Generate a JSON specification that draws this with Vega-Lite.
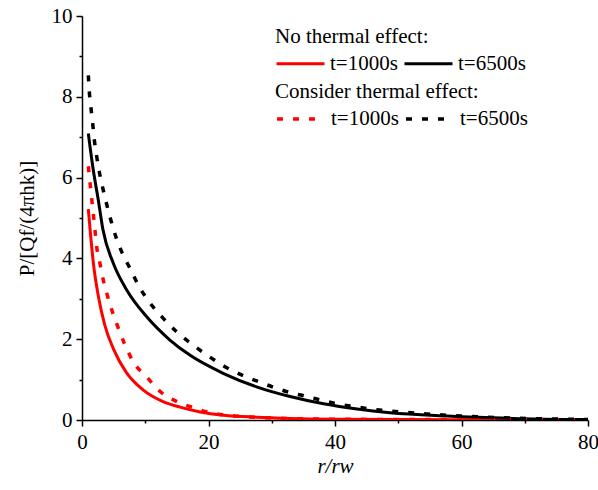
{
  "$schema": "https://vega.github.io/schema/vega-lite/v6.json",
  "width": 506,
  "height": 404,
  "autosize": {"type": "none"},
  "padding": {"left": 82, "top": 16, "right": 10, "bottom": 70},
  "background": "white",
  "config": {
    "view": {"stroke": null},
    "font": "Liberation Serif",
    "axis": {
      "domainColor": "black", "domainWidth": 1.5, "tickColor": "black", "tickWidth": 1.5,
      "labelFont": "Liberation Serif", "labelFontSize": 21, "labelColor": "black",
      "titleFont": "Liberation Serif", "titleFontSize": 21, "titleColor": "black", "titleFontWeight": "normal",
      "grid": false
    },
    "legend": {
      "titleFont": "Liberation Serif", "titleFontSize": 21, "titleFontWeight": "normal", "titleColor": "black",
      "titleLimit": 400, "labelLimit": 200,
      "labelFont": "Liberation Serif", "labelFontSize": 21, "labelColor": "black",
      "symbolType": "stroke", "symbolSize": 2304, "symbolStrokeWidth": 3,
      "labelOffset": 4, "columnPadding": 0, "titlePadding": -9, "padding": 0,
      "orient": "none", "direction": "horizontal"
    }
  },
  "data": {
    "values": [
      {"r": 1, "p": 5.22, "t": "t=1000s", "effect": "No"},
      {"r": 1.3, "p": 4.68, "t": "t=1000s", "effect": "No"},
      {"r": 1.8, "p": 3.88, "t": "t=1000s", "effect": "No"},
      {"r": 2.6, "p": 3.05, "t": "t=1000s", "effect": "No"},
      {"r": 3.6, "p": 2.35, "t": "t=1000s", "effect": "No"},
      {"r": 5, "p": 1.75, "t": "t=1000s", "effect": "No"},
      {"r": 7, "p": 1.18, "t": "t=1000s", "effect": "No"},
      {"r": 9.7, "p": 0.74, "t": "t=1000s", "effect": "No"},
      {"r": 12.9, "p": 0.45, "t": "t=1000s", "effect": "No"},
      {"r": 15.5, "p": 0.32, "t": "t=1000s", "effect": "No"},
      {"r": 18.7, "p": 0.2, "t": "t=1000s", "effect": "No"},
      {"r": 22.4, "p": 0.12, "t": "t=1000s", "effect": "No"},
      {"r": 27.6, "p": 0.07, "t": "t=1000s", "effect": "No"},
      {"r": 33, "p": 0.04, "t": "t=1000s", "effect": "No"},
      {"r": 40, "p": 0.02, "t": "t=1000s", "effect": "No"},
      {"r": 50, "p": 0.01, "t": "t=1000s", "effect": "No"},
      {"r": 65, "p": 0.005, "t": "t=1000s", "effect": "No"},
      {"r": 80, "p": 0.0, "t": "t=1000s", "effect": "No"},

      {"r": 1, "p": 7.09, "t": "t=6500s", "effect": "No"},
      {"r": 1.79, "p": 6.18, "t": "t=6500s", "effect": "No"},
      {"r": 2.58, "p": 5.44, "t": "t=6500s", "effect": "No"},
      {"r": 3.3, "p": 4.72, "t": "t=6500s", "effect": "No"},
      {"r": 4.95, "p": 3.88, "t": "t=6500s", "effect": "No"},
      {"r": 7.07, "p": 3.22, "t": "t=6500s", "effect": "No"},
      {"r": 10.2, "p": 2.56, "t": "t=6500s", "effect": "No"},
      {"r": 13.9, "p": 1.98, "t": "t=6500s", "effect": "No"},
      {"r": 17.1, "p": 1.6, "t": "t=6500s", "effect": "No"},
      {"r": 22.4, "p": 1.15, "t": "t=6500s", "effect": "No"},
      {"r": 27.6, "p": 0.82, "t": "t=6500s", "effect": "No"},
      {"r": 32.9, "p": 0.58, "t": "t=6500s", "effect": "No"},
      {"r": 38.2, "p": 0.4, "t": "t=6500s", "effect": "No"},
      {"r": 43.5, "p": 0.27, "t": "t=6500s", "effect": "No"},
      {"r": 48.7, "p": 0.18, "t": "t=6500s", "effect": "No"},
      {"r": 57.7, "p": 0.1, "t": "t=6500s", "effect": "No"},
      {"r": 68.2, "p": 0.04, "t": "t=6500s", "effect": "No"},
      {"r": 80, "p": 0.01, "t": "t=6500s", "effect": "No"},

      {"r": 1, "p": 6.28, "t": "t=1000s", "effect": "Consider"},
      {"r": 1.27, "p": 5.87, "t": "t=1000s", "effect": "Consider"},
      {"r": 1.53, "p": 5.48, "t": "t=1000s", "effect": "Consider"},
      {"r": 1.8, "p": 5.09, "t": "t=1000s", "effect": "Consider"},
      {"r": 2.06, "p": 4.68, "t": "t=1000s", "effect": "Consider"},
      {"r": 2.32, "p": 4.29, "t": "t=1000s", "effect": "Consider"},
      {"r": 2.85, "p": 3.87, "t": "t=1000s", "effect": "Consider"},
      {"r": 3.37, "p": 3.46, "t": "t=1000s", "effect": "Consider"},
      {"r": 4, "p": 3.09, "t": "t=1000s", "effect": "Consider"},
      {"r": 4.8, "p": 2.68, "t": "t=1000s", "effect": "Consider"},
      {"r": 5.75, "p": 2.27, "t": "t=1000s", "effect": "Consider"},
      {"r": 6.8, "p": 1.86, "t": "t=1000s", "effect": "Consider"},
      {"r": 8.1, "p": 1.44, "t": "t=1000s", "effect": "Consider"},
      {"r": 10.2, "p": 1.07, "t": "t=1000s", "effect": "Consider"},
      {"r": 12.4, "p": 0.7, "t": "t=1000s", "effect": "Consider"},
      {"r": 15.1, "p": 0.45, "t": "t=1000s", "effect": "Consider"},
      {"r": 17.9, "p": 0.29, "t": "t=1000s", "effect": "Consider"},
      {"r": 20.3, "p": 0.18, "t": "t=1000s", "effect": "Consider"},
      {"r": 25, "p": 0.09, "t": "t=1000s", "effect": "Consider"},
      {"r": 30, "p": 0.05, "t": "t=1000s", "effect": "Consider"},
      {"r": 40, "p": 0.02, "t": "t=1000s", "effect": "Consider"},
      {"r": 55, "p": 0.01, "t": "t=1000s", "effect": "Consider"},
      {"r": 80, "p": 0.0, "t": "t=1000s", "effect": "Consider"},

      {"r": 1, "p": 8.53, "t": "t=6500s", "effect": "Consider"},
      {"r": 1.16, "p": 8.12, "t": "t=6500s", "effect": "Consider"},
      {"r": 1.42, "p": 7.72, "t": "t=6500s", "effect": "Consider"},
      {"r": 1.69, "p": 7.34, "t": "t=6500s", "effect": "Consider"},
      {"r": 1.95, "p": 6.93, "t": "t=6500s", "effect": "Consider"},
      {"r": 2.32, "p": 6.53, "t": "t=6500s", "effect": "Consider"},
      {"r": 2.74, "p": 6.14, "t": "t=6500s", "effect": "Consider"},
      {"r": 3.27, "p": 5.75, "t": "t=6500s", "effect": "Consider"},
      {"r": 3.9, "p": 5.34, "t": "t=6500s", "effect": "Consider"},
      {"r": 4.59, "p": 4.93, "t": "t=6500s", "effect": "Consider"},
      {"r": 5.3, "p": 4.56, "t": "t=6500s", "effect": "Consider"},
      {"r": 6.28, "p": 4.16, "t": "t=6500s", "effect": "Consider"},
      {"r": 7.6, "p": 3.75, "t": "t=6500s", "effect": "Consider"},
      {"r": 8.9, "p": 3.34, "t": "t=6500s", "effect": "Consider"},
      {"r": 10.5, "p": 2.95, "t": "t=6500s", "effect": "Consider"},
      {"r": 12.6, "p": 2.56, "t": "t=6500s", "effect": "Consider"},
      {"r": 15, "p": 2.18, "t": "t=6500s", "effect": "Consider"},
      {"r": 17.6, "p": 1.85, "t": "t=6500s", "effect": "Consider"},
      {"r": 20.3, "p": 1.55, "t": "t=6500s", "effect": "Consider"},
      {"r": 22.6, "p": 1.32, "t": "t=6500s", "effect": "Consider"},
      {"r": 25.3, "p": 1.11, "t": "t=6500s", "effect": "Consider"},
      {"r": 27.9, "p": 0.95, "t": "t=6500s", "effect": "Consider"},
      {"r": 30.3, "p": 0.81, "t": "t=6500s", "effect": "Consider"},
      {"r": 32.9, "p": 0.68, "t": "t=6500s", "effect": "Consider"},
      {"r": 35.6, "p": 0.58, "t": "t=6500s", "effect": "Consider"},
      {"r": 37.9, "p": 0.49, "t": "t=6500s", "effect": "Consider"},
      {"r": 40.3, "p": 0.4, "t": "t=6500s", "effect": "Consider"},
      {"r": 43.1, "p": 0.33, "t": "t=6500s", "effect": "Consider"},
      {"r": 45.8, "p": 0.27, "t": "t=6500s", "effect": "Consider"},
      {"r": 48.2, "p": 0.23, "t": "t=6500s", "effect": "Consider"},
      {"r": 53.5, "p": 0.16, "t": "t=6500s", "effect": "Consider"},
      {"r": 59.8, "p": 0.1, "t": "t=6500s", "effect": "Consider"},
      {"r": 68, "p": 0.05, "t": "t=6500s", "effect": "Consider"},
      {"r": 80, "p": 0.01, "t": "t=6500s", "effect": "Consider"}
    ]
  },
  "encoding": {
    "x": {
      "field": "r", "type": "quantitative",
      "scale": {"domain": [0, 80], "nice": false, "zero": false},
      "axis": {
        "title": "r/rw", "titleFontStyle": "italic", "titlePadding": 3,
        "titleFont": "Liberation Serif", "labelFont": "Liberation Serif",
        "values": [0, 10, 20, 30, 40, 50, 60, 70, 80],
        "labelExpr": "datum.value % 20 == 0 ? datum.label : ''",
        "tickSize": {"condition": {"test": "datum.value % 20 == 0", "value": 6}, "value": 3},
        "labelPadding": 5, "labelFlush": false
      }
    },
    "y": {
      "field": "p", "type": "quantitative",
      "scale": {"domain": [0, 10], "nice": false},
      "axis": {
        "title": "P/[Qf/(4πhk)]", "titlePadding": 14,
        "titleFont": "Liberation Serif", "labelFont": "Liberation Serif",
        "values": [0, 1, 2, 3, 4, 5, 6, 7, 8, 9, 10],
        "labelExpr": "datum.value % 2 == 0 ? datum.label : ''",
        "tickSize": {"condition": {"test": "datum.value % 2 == 0", "value": 6}, "value": 3},
        "labelPadding": 4
      }
    }
  },
  "layer": [
    {
      "transform": [{"filter": "datum.effect == 'No'"}],
      "mark": {"type": "line", "strokeWidth": 3, "interpolate": "monotone", "clip": true},
      "encoding": {
        "detail": {"field": "t"},
        "color": {
          "field": "t", "type": "nominal",
          "scale": {"domain": ["t=1000s", "t=6500s"], "range": ["#ff0000", "#000000"]},
          "legend": {"title": "No thermal effect:", "legendX": 193, "legendY": 10}
        }
      }
    },
    {
      "transform": [{"filter": "datum.effect == 'Consider'"}],
      "mark": {"type": "line", "strokeWidth": 3.5, "strokeDash": [6, 10], "interpolate": "monotone", "clip": true},
      "encoding": {
        "detail": {"field": "t"},
        "color": {
          "field": "t", "type": "nominal",
          "scale": {"domain": ["t=1000s", "t=6500s"], "range": ["#ff0000", "#000000"]},
          "legend": {"title": "Consider thermal effect:", "legendX": 193, "legendY": 65, "symbolDash": [6, 10], "symbolStrokeWidth": 3.5}
        }
      }
    }
  ],
  "resolve": {"scale": {"color": "independent"}}
}
